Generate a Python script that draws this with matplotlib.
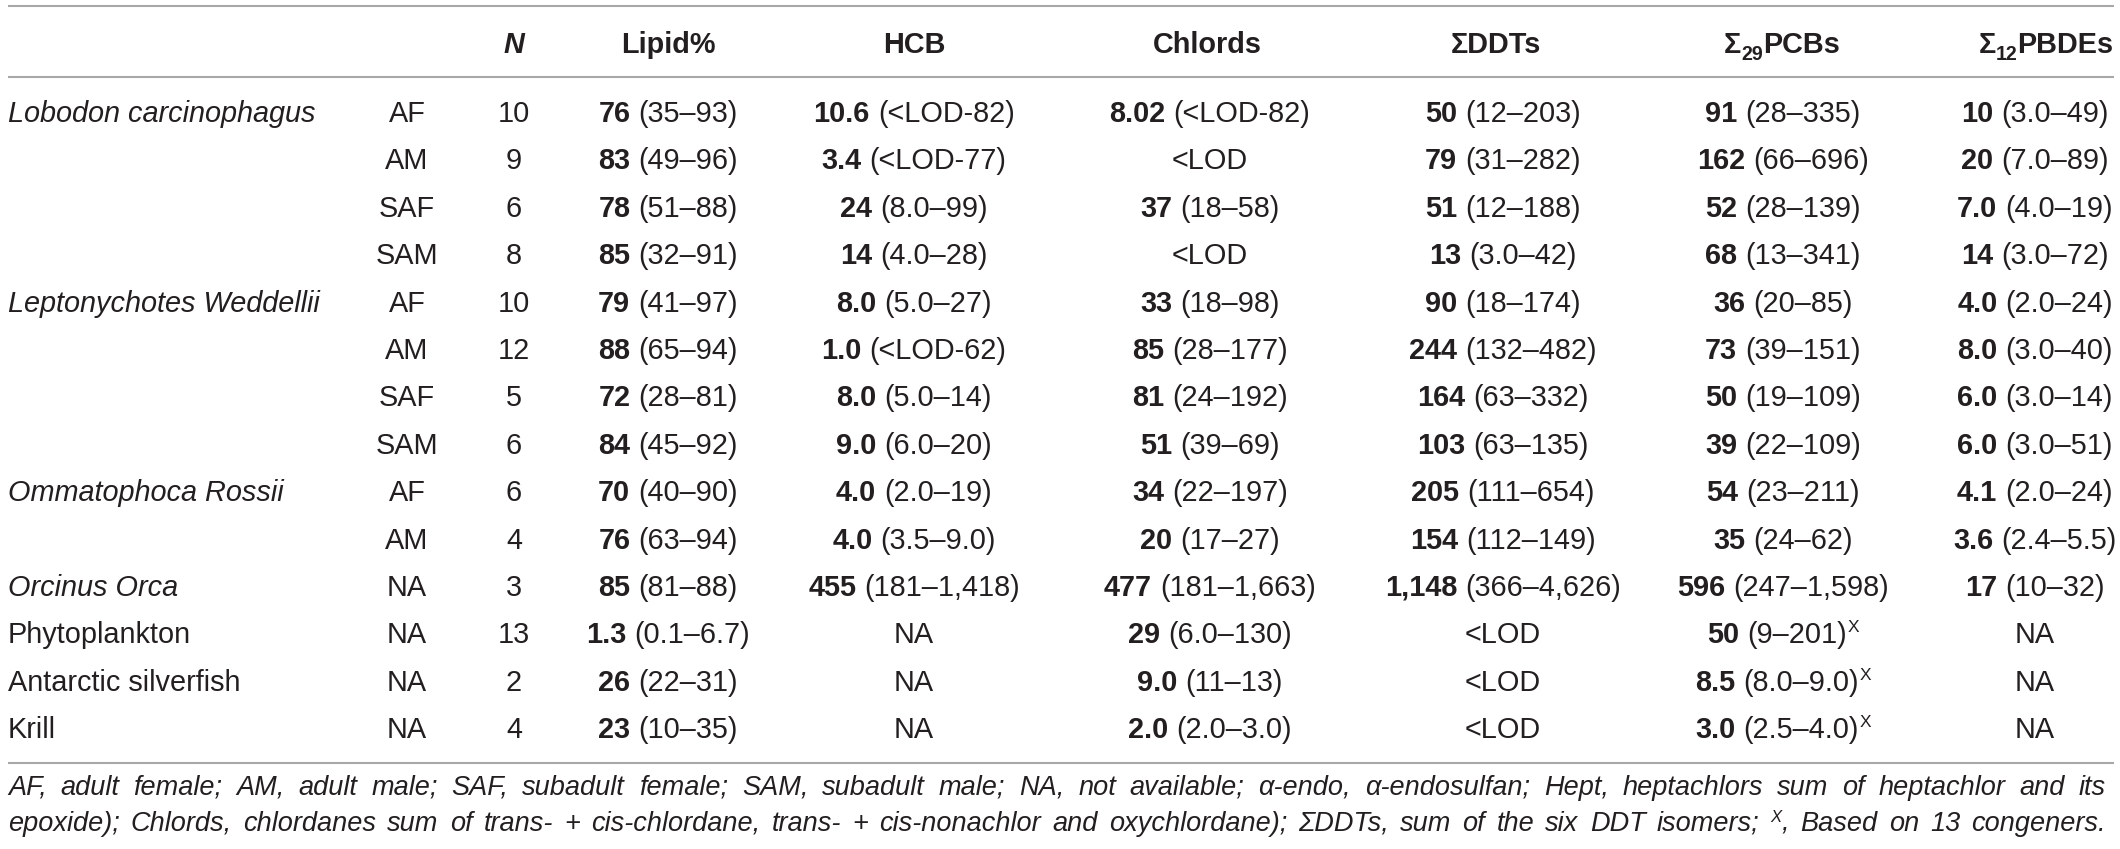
import matplotlib
matplotlib.use("Agg")
import matplotlib.pyplot as plt

# ---------------- data ----------------
species = ["Lobodon carcinophagus", "", "", "", "Leptonychotes Weddellii", "", "", "",
           "Ommatophoca Rossii", "", "Orcinus Orca", "Phytoplankton", "Antarctic silverfish", "Krill"]
species_italic = [True, False, False, False, True, False, False, False, True, False, True, False, False, False]
groups = ["AF", "AM", "SAF", "SAM", "AF", "AM", "SAF", "SAM", "AF", "AM", "NA", "NA", "NA", "NA"]
n_samples = [10, 9, 6, 8, 10, 12, 5, 6, 6, 4, 3, 13, 2, 4]
lipid = [("76", "35–93"), ("83", "49–96"), ("78", "51–88"), ("85", "32–91"), ("79", "41–97"),
         ("88", "65–94"), ("72", "28–81"), ("84", "45–92"), ("70", "40–90"), ("76", "63–94"),
         ("85", "81–88"), ("1.3", "0.1–6.7"), ("26", "22–31"), ("23", "10–35")]
hcb = [("10.6", "<LOD-82"), ("3.4", "<LOD-77"), ("24", "8.0–99"), ("14", "4.0–28"), ("8.0", "5.0–27"),
       ("1.0", "<LOD-62"), ("8.0", "5.0–14"), ("9.0", "6.0–20"), ("4.0", "2.0–19"), ("4.0", "3.5–9.0"),
       ("455", "181–1,418"), "NA", "NA", "NA"]
chlords = [("8.02", "<LOD-82"), "<LOD", ("37", "18–58"), "<LOD", ("33", "18–98"), ("85", "28–177"),
           ("81", "24–192"), ("51", "39–69"), ("34", "22–197"), ("20", "17–27"), ("477", "181–1,663"),
           ("29", "6.0–130"), ("9.0", "11–13"), ("2.0", "2.0–3.0")]
ddts = [("50", "12–203"), ("79", "31–282"), ("51", "12–188"), ("13", "3.0–42"), ("90", "18–174"),
        ("244", "132–482"), ("164", "63–332"), ("103", "63–135"), ("205", "111–654"), ("154", "112–149"),
        ("1,148", "366–4,626"), "<LOD", "<LOD", "<LOD"]
pcbs = [("91", "28–335"), ("162", "66–696"), ("52", "28–139"), ("68", "13–341"), ("36", "20–85"),
        ("73", "39–151"), ("50", "19–109"), ("39", "22–109"), ("54", "23–211"), ("35", "24–62"),
        ("596", "247–1,598"), ("50", "9–201", "X"), ("8.5", "8.0–9.0", "X"), ("3.0", "2.5–4.0", "X")]
pbdes = [("10", "3.0–49"), ("20", "7.0–89"), ("7.0", "4.0–19"), ("14", "3.0–72"), ("4.0", "2.0–24"),
         ("8.0", "3.0–40"), ("6.0", "3.0–14"), ("6.0", "3.0–51"), ("4.1", "2.0–24"), ("3.6", "2.4–5.5"),
         ("17", "10–32"), "NA", "NA", "NA"]
footnote_lines = [
    "AF, adult female; AM, adult male; SAF, subadult female; SAM, subadult male; NA, not available; "
    "α-endo, α-endosulfan; Hept, heptachlors sum of heptachlor and its",
    "epoxide); Chlords, chlordanes sum of trans- + cis-chlordane, trans- + cis-nonachlor and oxychlordane); "
    "ΣDDTs, sum of the six DDT isomers; ^X, Based on 13 congeners.",
]

# ---------------- layout ----------------
W, H = 2120, 849
DPI = 100
FONT = "Liberation Sans"
FS = 20.8
FS_FOOT = 19.5
COLOR = "#231f20"
RULE = "#a8a8a8"

fig = plt.figure(figsize=(W / DPI, H / DPI), dpi=DPI)
ax = fig.add_axes([0, 0, 1, 1])
ax.set_xlim(0, W)
ax.set_ylim(H, 0)
ax.axis("off")
renderer = fig.canvas.get_renderer()

px_per_pt = DPI / 72.0


def text_width(s, **kw):
    t = ax.text(0, 0, s, **kw)
    w = t.get_window_extent(renderer).width
    t.remove()
    return w


def draw_segments(x, y, segs, ha="center"):
    """segs: list of (text, kwargs, dy, gap_before)"""
    widths = [text_width(s, **kw) for s, kw, dy, g in segs]
    total = sum(widths) + sum(g for s, kw, dy, g in segs)
    if ha == "center":
        cx = x - total / 2
    elif ha == "left":
        cx = x
    else:
        cx = x - total
    for (s, kw, dy, g), w in zip(segs, widths):
        cx += g
        ax.text(cx, y + dy, s, ha="left", va="baseline", **kw)
        cx += w
    return total


def base(size=FS, weight="normal", style="normal"):
    return dict(family=FONT, fontsize=size, fontweight=weight, fontstyle=style, color=COLOR)


SPACE = 0.278 * FS * px_per_pt

# rules
for yy in (5.5, 77, 763):
    ax.plot([8, 2114], [yy, yy], color=RULE, lw=1.5, solid_capstyle="butt")

# header
hy = 53
draw_segments(514, hy, [("N", base(weight="bold", style="italic"), 0, 0)])
draw_segments(668, hy, [("Lipid%", base(weight="bold"), 0, 0)])
draw_segments(914, hy, [("HCB", base(weight="bold"), 0, 0)])
draw_segments(1207, hy, [("Chlords", base(weight="bold"), 0, 0)])
draw_segments(1496, hy, [("ΣDDTs", base(weight="bold"), 0, 0)])
draw_segments(1782, hy, [("Σ", base(weight="bold"), 0, 0),
                         ("29", base(size=FS * 0.68, weight="bold"), 7, 0),
                         ("PCBs", base(weight="bold"), 0, 0)])
draw_segments(2046, hy, [("Σ", base(weight="bold"), 0, 0),
                         ("12", base(size=FS * 0.68, weight="bold"), 7, 0),
                         ("PBDEs", base(weight="bold"), 0, 0)])

# body
row0 = 122
dy_row = 47.4
col_centers = [668, 914, 1210, 1503, 1783, 2035]
columns = [lipid, hcb, chlords, ddts, pcbs, pbdes]

for i in range(len(groups)):
    y = row0 + i * dy_row
    if species[i]:
        ax.text(8, y, species[i], ha="left", va="baseline",
                **base(style="italic" if species_italic[i] else "normal"))
    draw_segments(407, y, [(groups[i], base(), 0, 0)])
    draw_segments(514, y, [(str(n_samples[i]), base(), 0, 0)])
    for cx, col in zip(col_centers, columns):
        v = col[i]
        if isinstance(v, str):
            draw_segments(cx, y, [(v, base(), 0, 0)])
        else:
            segs = [(v[0], base(weight="bold"), 0, 0),
                    ("(" + v[1] + ")", base(), 0, SPACE)]
            if len(v) > 2:
                segs.append((v[2], base(size=FS * 0.6), -11, 1))
            draw_segments(cx, y, segs)

# footnote (justified)
foot_y = [795, 831]
xl, xr = 8, 2106
for li, line in enumerate(footnote_lines):
    words = line.split(" ")
    word_segs = []
    for wd in words:
        if wd.startswith("^"):
            word_segs.append([(wd[1], base(size=FS_FOOT * 0.62, style="italic"), -9, 0),
                              (wd[2:], base(size=FS_FOOT, style="italic"), 0, 0)])
        else:
            word_segs.append([(wd, base(size=FS_FOOT, style="italic"), 0, 0)])
    wlist = [sum(text_width(s, **kw) for s, kw, d, g in ws) for ws in word_segs]
    gap = (xr - xl - sum(wlist)) / (len(words) - 1)
    x = xl
    for ws, w in zip(word_segs, wlist):
        draw_segments(x, foot_y[li], ws, ha="left")
        x += w + gap

fig.savefig("out.png", dpi=DPI, facecolor="white")
